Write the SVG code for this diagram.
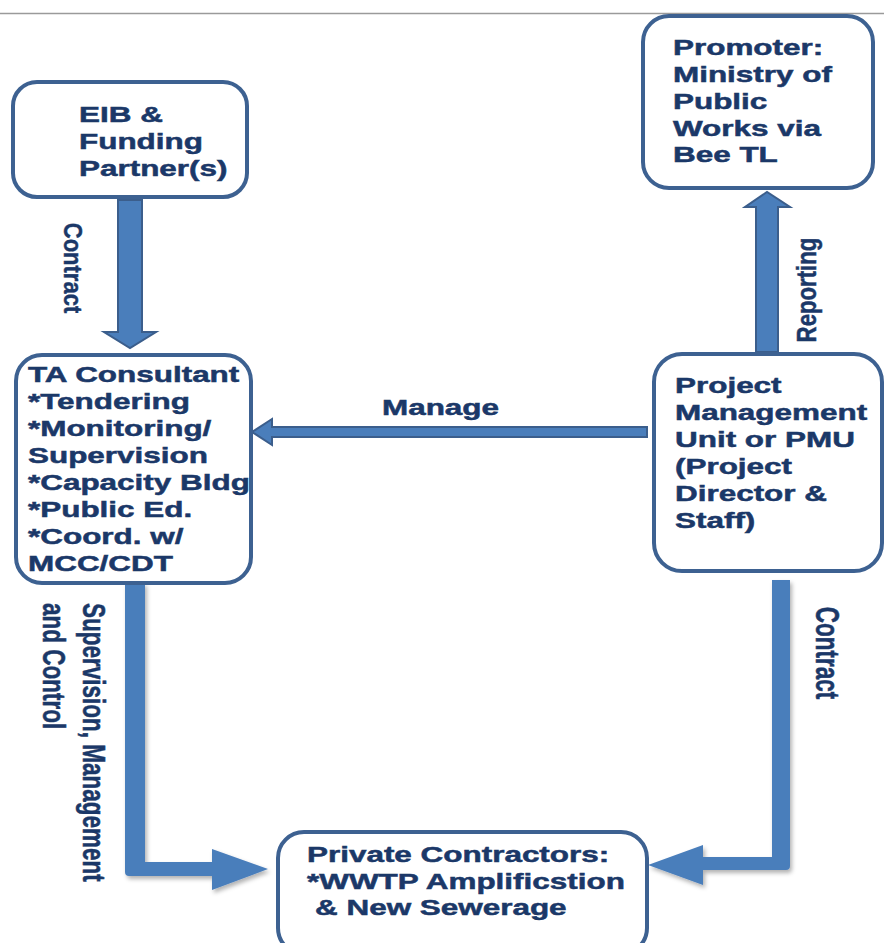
<svg xmlns="http://www.w3.org/2000/svg" width="884" height="943" viewBox="0 0 884 943">
<style>
.box{fill:#ffffff;stroke:#3d6191;stroke-width:4}
.t{font-family:"Liberation Sans",Arial,sans-serif;font-weight:bold;font-size:22px;fill:#1b3868;stroke:#1b3868;stroke-width:0.5}
.r{font-family:"Liberation Sans",Arial,sans-serif;font-weight:bold;fill:#1b3868;stroke:#1b3868;stroke-width:0.4}
.blk{fill:#4a7ebb;stroke:#3b5e8c;stroke-width:2}
.thick{fill:#4a7ebb}
</style>
<defs>
<filter id="sh" x="-20%" y="-20%" width="140%" height="140%">
<feDropShadow dx="2" dy="3" stdDeviation="2" flood-color="#000" flood-opacity="0.3"/>
</filter>
</defs>
<rect width="884" height="943" fill="#ffffff"/>
<line x1="0" y1="13.5" x2="884" y2="13.5" stroke="#9a9a9a" stroke-width="1.5"/>

<g id="connectors">
<path class="blk" d="M118,200 H142 V332 H156 L130,348 L104,332 H118 Z"/>
<path class="blk" d="M756,352 V207 H745 L767,192 L790,207 H778 V352 Z"/>
<path class="blk" d="M647,427 V437 H272 V445 L252,432 L272,419 V427 Z"/>
<path class="thick" filter="url(#sh)" d="M125,583 H145 V862 H212 V849 L268,869 L212,890 V876 H129 Q125,876 125,872 Z"/>
<path class="thick" filter="url(#sh)" d="M772,580 H790 V866 Q790,870 786,870 H703 V885 L648,865 L703,845 V857 H772 Z"/>
<text class="r" font-size="22" text-anchor="middle" transform="translate(64,268) rotate(90) scale(1,1.14)">Contract</text>
<text class="r" font-size="22.2" text-anchor="middle" transform="translate(816,290) rotate(-90) scale(1,1.21)">Reporting</text>
<text class="r" font-size="22.5" text-anchor="middle" transform="translate(816,653) rotate(90) scale(1,1.45)">Contract</text>
<text class="r" font-size="22.5" transform="translate(83,603) rotate(90) scale(1,1.42)"><tspan x="0" y="0">Supervision, Management</tspan><tspan x="0" dy="28">and Control</tspan></text>
<text class="t" transform="translate(382,415) scale(1.43,1)">Manage</text>
</g>

<g id="eib">
<rect class="box" x="13" y="82" width="234" height="115" rx="24"/>
<text class="t" transform="translate(79,122) scale(1.43,1)"><tspan x="0" y="0">EIB &amp;</tspan><tspan x="0" y="27">Funding</tspan><tspan x="0" y="54">Partner(s)</tspan></text>
</g>

<g id="promoter">
<rect class="box" x="643" y="16" width="230" height="172" rx="26"/>
<text class="t" transform="translate(673,55) scale(1.43,1)"><tspan x="0" y="0">Promoter:</tspan><tspan x="0" y="27">Ministry of</tspan><tspan x="0" y="54">Public</tspan><tspan x="0" y="81">Works via</tspan><tspan x="0" y="107">Bee TL</tspan></text>
</g>

<g id="ta">
<rect class="box" x="16" y="355" width="235" height="228" rx="26"/>
<text class="t" transform="translate(28,382) scale(1.43,1)"><tspan x="0" y="0">TA Consultant</tspan><tspan x="0" y="27">*Tendering</tspan><tspan x="0" y="54">*Monitoring/</tspan><tspan x="0" y="81">Supervision</tspan><tspan x="0" y="108">*Capacity Bldg</tspan><tspan x="0" y="135">*Public Ed.</tspan><tspan x="0" y="162">*Coord. w/</tspan><tspan x="0" y="189">MCC/CDT</tspan></text>
</g>

<g id="pmu">
<rect class="box" x="654" y="354" width="228" height="217" rx="28"/>
<text class="t" transform="translate(675,393) scale(1.43,1)"><tspan x="0" y="0">Project</tspan><tspan x="0" y="27">Management</tspan><tspan x="0" y="54">Unit or PMU</tspan><tspan x="0" y="81">(Project</tspan><tspan x="0" y="108">Director &amp;</tspan><tspan x="0" y="135">Staff)</tspan></text>
</g>

<g id="contractors">
<rect class="box" x="278" y="832" width="369" height="122" rx="26"/>
<text class="t" transform="translate(307,862) scale(1.43,1)"><tspan x="0" y="0">Private Contractors:</tspan><tspan x="0" y="27">*WWTP Amplificstion</tspan><tspan x="5.6" y="53">&amp; New Sewerage</tspan></text>
</g>
</svg>
